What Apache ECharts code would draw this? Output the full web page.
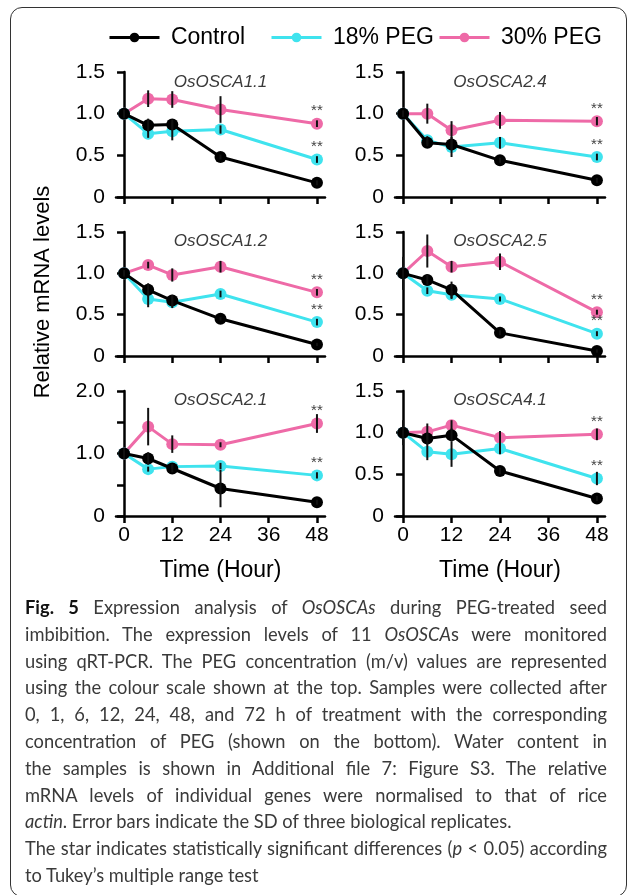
<!DOCTYPE html>
<html lang="en">
<head>
<meta charset="UTF-8">
<title>OsOSCA expression during PEG-treated imbibition</title>
<script src="https://cdn.jsdelivr.net/npm/echarts@6.0.0/dist/echarts.min.js"></script>
<style>
  html, body { margin: 0; padding: 0; background: #fff; overflow: hidden; }
  #frame { position: absolute; left: 10px; top: 7px; width: 617px; height: 890px;
           border: 1.5px solid #333; border-radius: 12px; box-sizing: border-box; }
  #main { position: absolute; left: 0; top: 0; width: 627px; height: 600px; }
  #caption { position: absolute; left: 25px; top: 594px; width: 582px;
             font-family: Lato, sans-serif; font-size: 18.3px; color: #3a3a3a; }
  #caption .ln { height: 26.8px; line-height: 26.8px; white-space: nowrap; }
  #caption .ln span { display: inline-block; transform-origin: left center; }
  #caption b { color: #111; }
</style>
</head>
<body>
<div id="frame"></div>
<div id="main"></div>
<div id="caption">
  <div class="ln j"><span><b>Fig. 5</b> Expression analysis of <i>OsOSCAs</i> during PEG-treated seed</span></div>
  <div class="ln j"><span>imbibition. The expression levels of 11 <i>OsOSCA</i>s were monitored</span></div>
  <div class="ln j"><span>using qRT-PCR. The PEG concentration (m/v) values are represented</span></div>
  <div class="ln j"><span>using the colour scale shown at the top. Samples were collected after</span></div>
  <div class="ln j"><span>0, 1, 6, 12, 24, 48, and 72 h of treatment with the corresponding</span></div>
  <div class="ln j"><span>concentration of PEG (shown on the bottom). Water content in</span></div>
  <div class="ln j"><span>the samples is shown in Additional file 7: Figure S3. The relative</span></div>
  <div class="ln j"><span>mRNA levels of individual genes were normalised to that of rice</span></div>
  <div class="ln"><span><i>actin</i>. Error bars indicate the SD of three biological replicates.</span></div>
  <div class="ln j"><span>The star indicates statistically significant differences (<i>p</i> &lt; 0.05) according</span></div>
  <div class="ln"><span>to Tukey’s multiple range test</span></div>
</div>
<script type="text/javascript">
// sampling times (h) and axis ticks
const hours = [0, 6, 12, 24, 48];
const xTicks = [0, 12, 24, 36, 48];

// panels, left-to-right then top-to-bottom
const genes = ['OsOSCA1.1', 'OsOSCA2.4', 'OsOSCA1.2', 'OsOSCA2.5', 'OsOSCA2.1', 'OsOSCA4.1'];
const yMax = [1.5, 1.5, 1.5, 1.5, 2.0, 1.5];

// relative mRNA levels (mean) and SD, one row per gene
const controlMean = [
  [1.0, 0.86, 0.87, 0.48, 0.17],
  [1.0, 0.65, 0.63, 0.44, 0.20],
  [1.0, 0.80, 0.67, 0.45, 0.14],
  [1.0, 0.92, 0.80, 0.28, 0.06],
  [1.0, 0.92, 0.76, 0.44, 0.22],
  [1.0, 0.93, 0.97, 0.54, 0.21]
];
const controlSD = [
  [0.05, 0.08, 0.06, 0.03, 0.03],
  [0.04, 0.04, 0.06, 0.03, 0.03],
  [0.04, 0.08, 0.07, 0.02, 0.02],
  [0.20, 0.07, 0.10, 0.03, 0.02],
  [0.09, 0.10, 0.06, 0.30, 0.04],
  [0.15, 0.07, 0.08, 0.04, 0.03]
];
const peg18Mean = [
  [1.0, 0.76, 0.79, 0.81, 0.45],
  [1.0, 0.68, 0.60, 0.65, 0.48],
  [1.0, 0.69, 0.65, 0.75, 0.41],
  [1.0, 0.79, 0.74, 0.69, 0.27],
  [1.0, 0.75, 0.79, 0.80, 0.65],
  [1.0, 0.77, 0.74, 0.81, 0.45]
];
const peg18SD = [
  [0.04, 0.05, 0.11, 0.05, 0.04],
  [0.03, 0.05, 0.12, 0.07, 0.04],
  [0.03, 0.10, 0.07, 0.04, 0.04],
  [0.05, 0.04, 0.05, 0.03, 0.03],
  [0.05, 0.04, 0.04, 0.05, 0.05],
  [0.04, 0.10, 0.15, 0.07, 0.08]
];
const peg30Mean = [
  [1.0, 1.18, 1.17, 1.05, 0.88],
  [1.0, 1.00, 0.80, 0.92, 0.91],
  [1.0, 1.10, 0.98, 1.08, 0.77],
  [1.0, 1.27, 1.08, 1.14, 0.53],
  [1.0, 1.43, 1.15, 1.14, 1.48],
  [1.0, 1.01, 1.09, 0.94, 0.98]
];
const peg30SD = [
  [0.03, 0.10, 0.10, 0.16, 0.04],
  [0.03, 0.12, 0.11, 0.10, 0.05],
  [0.02, 0.04, 0.08, 0.07, 0.04],
  [0.04, 0.20, 0.07, 0.10, 0.03],
  [0.05, 0.30, 0.14, 0.04, 0.15],
  [0.03, 0.10, 0.06, 0.08, 0.07]
];

const groups = [
  { name: 'Control', color: '#000000', mean: controlMean, sd: controlSD, stars: false, z: 4 },
  { name: '18% PEG', color: '#3fe3ee', mean: peg18Mean, sd: peg18SD, stars: true, z: 3 },
  { name: '30% PEG', color: '#ee6aa7', mean: peg30Mean, sd: peg30SD, stars: true, z: 2 }
];

// layout (px)
const cols = [{ left: 116, width: 209 }, { left: 395, width: 210 }];
const rows = [{ top: 72, height: 125 }, { top: 232, height: 124 }, { top: 391, height: 125 }];
const titleY = [82, 241, 400];
const FONT = 'Liberation Sans, Arial, sans-serif';

let myChart = echarts.init(document.getElementById('main'));

const grids = [], xAxes = [], yAxes = [], series = [], graphics = [];

genes.forEach((gene, i) => {
  const c = cols[i % 2], r = rows[Math.floor(i / 2)];
  const bottomRow = i >= 4;
  grids.push({ left: c.left, top: r.top, width: c.width, height: r.height });

  xAxes.push({
    type: 'value', gridIndex: i, min: -2, max: 50,
    axisLine: { lineStyle: { color: '#000', width: 2.5 } },
    axisTick: { customValues: xTicks, length: 7, lineStyle: { color: '#000', width: 2.5 } },
    axisLabel: { show: bottomRow, customValues: xTicks, margin: 9, fontSize: 21, fontFamily: FONT, color: '#000' },
    splitLine: { show: false },
    name: bottomRow ? 'Time (Hour)' : '', nameLocation: 'middle', nameGap: 43,
    nameTextStyle: { fontSize: 23, fontFamily: FONT, color: '#000' }
  });

  const mx = yMax[i];
  yAxes.push({
    type: 'value', gridIndex: i, min: 0, max: mx, interval: 0.5,
    axisLine: { show: true, lineStyle: { color: '#000', width: 2.5 } },
    axisTick: { show: true, length: 7, lineStyle: { color: '#000', width: 2.5 } },
    axisLabel: {
      margin: 11, fontSize: 21, fontFamily: FONT, color: '#000',
      formatter: v => v === 0 ? '0' : (mx > 1.5 && v % 1 !== 0 ? '' : v.toFixed(1))
    },
    splitLine: { show: false }
  });

  const cx = c.left + (2 + 24) * c.width / 52;
  graphics.push({
    type: 'text', x: cx, y: titleY[Math.floor(i / 2)], silent: true,
    style: { text: gene, font: 'italic 17px ' + FONT, fill: '#3a3a3a', align: 'center', verticalAlign: 'middle' }
  });

  groups.forEach(g => {
    const m = g.mean[i], s = g.sd[i];
    series.push({
      name: g.name, type: 'line', xAxisIndex: i, yAxisIndex: i, z: g.z,
      symbol: 'circle', symbolSize: 12,
      lineStyle: { color: g.color, width: 3 },
      itemStyle: { color: g.color },
      data: hours.map((h, k) => {
        const item = { value: [h, m[k]] };
        if (g.stars && k === hours.length - 1) {
          item.label = { show: true, formatter: '**', position: 'top', distance: -1,
                         fontSize: 15, fontFamily: FONT, color: '#444' };
        }
        return item;
      })
    });
    // error bars
    series.push({
      type: 'custom', xAxisIndex: i, yAxisIndex: i, z: 5, silent: true,
      data: hours.map((h, k) => [h, m[k] - s[k], m[k] + s[k]]),
      encode: { x: 0, y: [1, 2] },
      renderItem: (params, api) => {
        const lo = api.coord([api.value(0), api.value(1)]);
        const hi = api.coord([api.value(0), api.value(2)]);
        return { type: 'line', shape: { x1: lo[0], y1: lo[1], x2: hi[0], y2: hi[1] },
                 style: { stroke: '#111', lineWidth: 2 } };
      }
    });
  });
});

// y axis title
graphics.push({
  type: 'text', x: 43, y: 292, rotation: Math.PI / 2, silent: true,
  style: { text: 'Relative mRNA levels', font: '22px ' + FONT, fill: '#000', align: 'center', verticalAlign: 'middle' }
});

const legendLeft = [103, 265, 433];
const legends = groups.map((g, k) => ({
  data: [g.name], left: legendLeft[k], top: 21, itemWidth: 50, itemHeight: 12,
  formatter: ' {name}', selectedMode: false,
  lineStyle: { width: 3 },
  textStyle: { fontSize: 23, fontFamily: FONT, color: '#000' }
}));

let options = {
  animation: false,
  legend: legends,
  grid: grids,
  xAxis: xAxes,
  yAxis: yAxes,
  series: series,
  graphic: graphics
};
myChart.setOption(options);

// justify caption lines to the box width
function fitCaption() {
  const W = document.getElementById('caption').clientWidth;
  document.querySelectorAll('#caption .ln').forEach(ln => {
    const sp = ln.querySelector('span');
    const w = sp.getBoundingClientRect().width;
    if (w > W) {
      sp.style.transform = 'scaleX(' + (W / w) + ')';
    } else if (ln.classList.contains('j')) {
      const gaps = (sp.textContent.match(/ /g) || []).length;
      if (gaps) sp.style.wordSpacing = ((W - w) / gaps) + 'px';
    }
  });
}
fitCaption();
</script>
</body>
</html>
